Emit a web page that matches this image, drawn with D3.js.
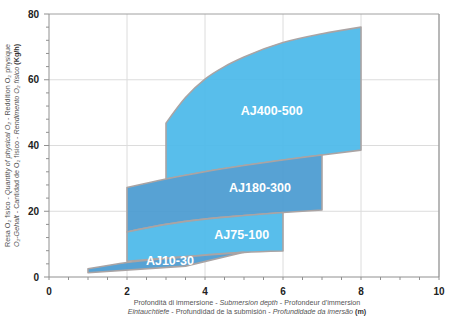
<!DOCTYPE html>
<html>
<head>
<meta charset="utf-8">
<script src="https://cdn.jsdelivr.net/npm/d3@7"></script>
<style>
  html, body { margin: 0; padding: 0; background: #fff; }
  svg { display: block; font-family: "Liberation Sans", Arial, sans-serif; }
</style>
</head>
<body>
<svg id="chart" width="450" height="325"></svg>
<script>
// Axis ticks
const xTicks = [0, 2, 4, 6, 8, 10];
const yTicks = [0, 20, 40, 60, 80];

// Operating envelopes: submersion depth (m) vs physical O2 yield (kg/h)
const aj400Depth = [3, 3.5, 4, 4.5, 5, 6, 7, 8];
const aj400Upper = [46.8, 54.6, 60.2, 64.0, 66.9, 71.3, 74.0, 76.0];
const aj400LowerDepth = [3, 4, 5, 6, 7, 8];
const aj400Lower = [29.8, 32.0, 33.9, 35.6, 37.1, 38.6];

const aj180Depth = [2, 3, 4, 5, 6, 7];
const aj180Upper = [27.2, 29.8, 32.0, 33.9, 35.6, 37.1];
const aj180Lower = [13.7, 16.0, 17.6, 18.7, 19.6, 20.4];

const aj75Depth = [2, 3, 4, 5, 6];
const aj75Upper = [13.7, 16.0, 17.6, 18.7, 19.6];
const aj75Lower = [4.8, 5.8, 6.7, 7.5, 7.9];

const aj10Depth = [1, 2, 3, 4, 5];
const aj10Upper = [2.5, 4.4, 5.6, 6.6, 7.5];
const aj10LowerDepth = [1, 3.5, 5];
const aj10Lower = [1.3, 3.3, 7.5];

const models = ["AJ400-500", "AJ180-300", "AJ75-100", "AJ10-30"];

const svg = d3.select("#chart");
const margin = { top: 14, right: 11, bottom: 48, left: 49 };
const W = 450, H = 325;
const x = d3.scaleLinear().domain([0, 10]).range([margin.left, W - margin.right]);
const y = d3.scaleLinear().domain([0, 80]).range([H - margin.bottom, margin.top]);

// Grid
const grid = svg.append("g");
grid.selectAll(".gx").data(xTicks.filter(d => d > 0 && d < 10)).join("line")
  .attr("x1", d => x(d)).attr("x2", d => x(d))
  .attr("y1", y(0)).attr("y2", y(80))
  .attr("stroke", "#dcdcdc").attr("stroke-width", 1);
grid.selectAll(".gy").data(yTicks.filter(d => d > 0 && d < 80)).join("line")
  .attr("x1", x(0)).attr("x2", x(10))
  .attr("y1", d => y(d)).attr("y2", d => y(d))
  .attr("stroke", "#dcdcdc").attr("stroke-width", 1);

// Frame (top / right)
svg.append("line").attr("x1", x(0)).attr("x2", x(10)).attr("y1", y(80)).attr("y2", y(80))
  .attr("stroke", "#a0a0a0");
svg.append("line").attr("x1", x(10)).attr("x2", x(10)).attr("y1", y(80)).attr("y2", y(0))
  .attr("stroke", "#a0a0a0").attr("stroke-width", 1.5);

// Envelope builder: upper edge left→right, lower edge right→left
function envelope(dU, vU, dL, vL, curveU, curveL) {
  const up = d3.line().x(d => x(d[0])).y(d => y(d[1])).curve(curveU);
  const lo = d3.line().x(d => x(d[0])).y(d => y(d[1])).curve(curveL);
  const upPts = dU.map((d, i) => [d, vU[i]]);
  const loPts = dL.map((d, i) => [d, vL[i]]).reverse();
  return up(upPts) + lo(loPts).replace(/^M/, "L") + "Z";
}

const light = "#4bb9ea", dark = "#4a9bd1";
const smooth = d3.curveMonotoneX;
const shapes = [
  { name: models[0], path: envelope(aj400Depth, aj400Upper, aj400LowerDepth, aj400Lower, smooth, smooth), fill: light },
  { name: models[1], path: envelope(aj180Depth, aj180Upper, aj180Depth, aj180Lower, smooth, smooth), fill: dark },
  { name: models[2], path: envelope(aj75Depth, aj75Upper, aj75Depth, aj75Lower, smooth, smooth), fill: light },
  { name: models[3], path: envelope(aj10Depth, aj10Upper, aj10LowerDepth, aj10Lower, smooth, d3.curveLinear), fill: dark }
];

svg.append("g").selectAll("path").data(shapes).join("path")
  .attr("d", d => d.path)
  .attr("fill", d => d.fill)
  .attr("fill-opacity", 0.93)
  .attr("stroke", "#aaa4a4")
  .attr("stroke-width", 1.6)
  .attr("stroke-linejoin", "round");

// Model labels
const labelPos = { "AJ400-500": [5.71, 50.5], "AJ180-300": [5.41, 27.1], "AJ75-100": [4.94, 13.0], "AJ10-30": [3.1, 4.9] };
svg.append("g").selectAll("text").data(models).join("text")
  .attr("x", d => x(labelPos[d][0]))
  .attr("y", d => y(labelPos[d][1]))
  .attr("dy", "0.35em")
  .attr("text-anchor", "middle")
  .attr("fill", "#fff")
  .attr("font-size", 12.5)
  .attr("font-weight", "bold")
  .text(d => d);

// Axes
const xAxis = svg.append("g").attr("transform", `translate(0,${y(0)})`);
xAxis.append("line").attr("x1", x(0)).attr("x2", x(10)).attr("stroke", "#909090");
xAxis.selectAll(".mt").data(d3.range(0, 10.01, 0.5)).join("line")
  .attr("x1", d => x(d)).attr("x2", d => x(d)).attr("y1", 0).attr("y2", 3)
  .attr("stroke", "#909090");
xAxis.selectAll("text").data(xTicks).join("text")
  .attr("x", d => x(d)).attr("y", 18)
  .attr("text-anchor", "middle")
  .attr("font-size", 10).attr("font-weight", "bold").attr("fill", "#222")
  .text(d => d);

const yAxis = svg.append("g").attr("transform", `translate(${x(0)},0)`);
yAxis.append("line").attr("y1", y(0)).attr("y2", y(80)).attr("stroke", "#909090");
yAxis.selectAll(".mt").data(d3.range(0, 80.01, 4)).join("line")
  .attr("y1", d => y(d)).attr("y2", d => y(d)).attr("x1", d => d % 20 === 0 ? -5 : -3).attr("x2", 0)
  .attr("stroke", "#909090");
yAxis.selectAll("text").data(yTicks).join("text")
  .attr("x", -10).attr("y", d => y(d)).attr("dy", "0.35em")
  .attr("text-anchor", "end")
  .attr("font-size", 10).attr("font-weight", "bold").attr("fill", "#222")
  .text(d => d);

// Multilingual axis titles
function richText(sel, parts) {
  parts.forEach(p => {
    const t = sel.append("tspan").text(p.t);
    if (p.i) t.attr("font-style", "italic");
    if (p.b) t.attr("font-weight", "bold").attr("fill", "#333");
  });
}
const titleStyle = s => s.attr("font-size", 7.2).attr("fill", "#555").attr("text-anchor", "middle");

const xMid = (x(0) + x(10)) / 2 + 3;
richText(svg.append("text").attr("x", xMid).attr("y", 305).call(titleStyle), [
  { t: "Profondità di immersione - " }, { t: "Submersion depth", i: true }, { t: " - Profondeur d'immersion" }
]);
richText(svg.append("text").attr("x", xMid).attr("y", 314).call(titleStyle), [
  { t: "Eintauchtiefe", i: true }, { t: " - Profundidad de la submisión - " }, { t: "Profundidade da imersão", i: true }, { t: " (m)", b: true }
]);

const yMid = (y(0) + y(80)) / 2;
richText(svg.append("text").attr("transform", `translate(10,${yMid}) rotate(-90)`).call(titleStyle), [
  { t: "Resa O₂ fisico - " }, { t: "Quantity of physical O₂", i: true }, { t: " - Reddition O₂ physique" }
]);
richText(svg.append("text").attr("transform", `translate(19,${yMid}) rotate(-90)`).call(titleStyle), [
  { t: "O₂-Gehalt", i: true }, { t: " - Cantidad de O₂ físico - " }, { t: "Rendimento O₂ físico", i: true }, { t: " (Kg/h)", b: true }
]);
</script>
</body>
</html>
